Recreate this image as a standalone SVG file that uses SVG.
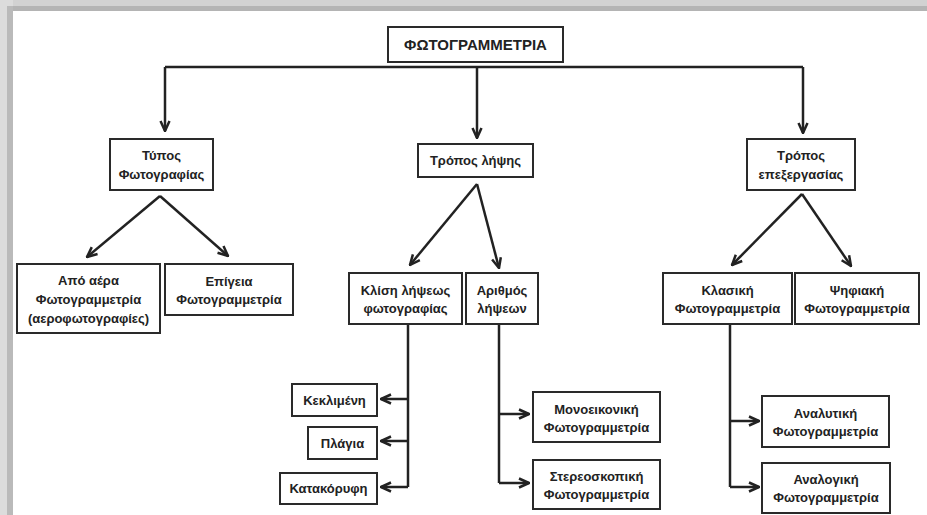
<svg xmlns="http://www.w3.org/2000/svg" width="927" height="515" viewBox="0 0 927 515">
<style>
.box{fill:#fff;stroke:#2a2a2a;stroke-width:2}
.t{font-family:"Liberation Sans",Arial,sans-serif;font-size:13px;font-weight:bold;fill:#222;text-anchor:middle}
.title{font-size:15px}
.c{fill:none;stroke:#222;stroke-width:2.5}
.a{marker-end:url(#arr)}
</style>
<defs>
<marker id="arr" viewBox="0 0 12 12" refX="11" refY="6" markerWidth="12" markerHeight="12" markerUnits="userSpaceOnUse" orient="auto">
<path d="M1,1.5 L11,6 L1,10.5" fill="none" stroke="#222" stroke-width="2.5"/>
</marker>
</defs>
<rect x="0" y="0" width="927" height="515" fill="#fff"/>
<rect x="0" y="0" width="927" height="11" fill="#d2d2d2"/>
<rect x="13" y="6" width="914" height="5" fill="#b4b4b4"/>
<rect x="0" y="0" width="13" height="515" fill="#dcdcdc"/>
<rect x="7" y="6" width="6" height="509" fill="#bababa"/>

<g id="connectors">
<path class="c" d="M165,67 H803"/>
<path class="c a" d="M165,67 V131"/>
<path class="c a" d="M477,67 V138"/>
<path class="c a" d="M803,67 V133"/>
<path class="c a" d="M160,196 L87,257"/>
<path class="c a" d="M160,196 L228,256"/>
<path class="c a" d="M477,184 L410,265"/>
<path class="c a" d="M477,184 L499,268"/>
<path class="c a" d="M802,194 L732,265"/>
<path class="c a" d="M802,194 L851,266"/>
<path class="c" d="M408,324 V487"/>
<path class="c a" d="M408,399 H381"/>
<path class="c a" d="M408,441 H381"/>
<path class="c a" d="M408,487 H381"/>
<path class="c" d="M499,324 V483"/>
<path class="c a" d="M499,414 H529"/>
<path class="c a" d="M499,483 H529"/>
<path class="c" d="M730,324 V487"/>
<path class="c a" d="M730,421 H759"/>
<path class="c a" d="M730,487 H759"/>
</g>

<g id="root"><rect class="box" x="388" y="27" width="175" height="35"/><text class="t title" x="475.5" y="50">ΦΩΤΟΓΡΑΜΜΕΤΡΙΑ</text></g>

<g id="typos"><rect class="box" x="110" y="139" width="103" height="51"/><text class="t" x="161.5" y="160">Τύπος</text><text class="t" x="161.5" y="179">Φωτογραφίας</text></g>
<g id="tropos-lipsis"><rect class="box" x="418" y="144" width="115" height="33"/><text class="t" x="475.5" y="165">Τρόπος λήψης</text></g>
<g id="tropos-epexergasias"><rect class="box" x="747" y="139" width="108" height="51"/><text class="t" x="801" y="160">Τρόπος</text><text class="t" x="801" y="179">επεξεργασίας</text></g>

<g id="apo-aera"><rect class="box" x="17" y="264" width="143" height="69"/><text class="t" x="88.5" y="285">Από αέρα</text><text class="t" x="88.5" y="304">Φωτογραμμετρία</text><text class="t" x="88.5" y="323">(αεροφωτογραφίες)</text></g>
<g id="epigeia"><rect class="box" x="165" y="264" width="128" height="51"/><text class="t" x="229" y="286">Επίγεια</text><text class="t" x="229" y="304">Φωτογραμμετρία</text></g>

<g id="klisi"><rect class="box" x="349" y="273" width="113" height="51"/><text class="t" x="405.5" y="295">Κλίση λήψεως</text><text class="t" x="405.5" y="313">φωτογραφίας</text></g>
<g id="arithmos"><rect class="box" x="466" y="273" width="72" height="51"/><text class="t" x="502" y="295">Αριθμός</text><text class="t" x="502" y="313">λήψεων</text></g>

<g id="klasiki"><rect class="box" x="663" y="273" width="129" height="51"/><text class="t" x="727.5" y="295">Κλασική</text><text class="t" x="727.5" y="313">Φωτογραμμετρία</text></g>
<g id="psifiaki"><rect class="box" x="795" y="273" width="124" height="51"/><text class="t" x="857" y="295">Ψηφιακή</text><text class="t" x="857" y="313">Φωτογραμμετρία</text></g>

<g id="keklimeni"><rect class="box" x="292" y="384" width="85" height="32"/><text class="t" x="334.5" y="405">Κεκλιμένη</text></g>
<g id="plagia"><rect class="box" x="308" y="427" width="69" height="32"/><text class="t" x="342.5" y="448">Πλάγια</text></g>
<g id="katakoryfi"><rect class="box" x="280" y="473" width="97" height="31"/><text class="t" x="328.5" y="493">Κατακόρυφη</text></g>

<g id="monoeikoniki"><rect class="box" x="533" y="392" width="127" height="50"/><text class="t" x="596.5" y="414">Μονοεικονική</text><text class="t" x="596.5" y="432">Φωτογραμμετρία</text></g>
<g id="stereoskopiki"><rect class="box" x="533" y="460" width="127" height="49"/><text class="t" x="596.5" y="481">Στερεοσκοπική</text><text class="t" x="596.5" y="499">Φωτογραμμετρία</text></g>

<g id="analytiki"><rect class="box" x="762" y="396" width="127" height="51"/><text class="t" x="825.5" y="418">Αναλυτική</text><text class="t" x="825.5" y="436">Φωτογραμμετρία</text></g>
<g id="analogiki"><rect class="box" x="762" y="463" width="128" height="50"/><text class="t" x="826" y="484">Αναλογική</text><text class="t" x="826" y="502">Φωτογραμμετρία</text></g>
</svg>
